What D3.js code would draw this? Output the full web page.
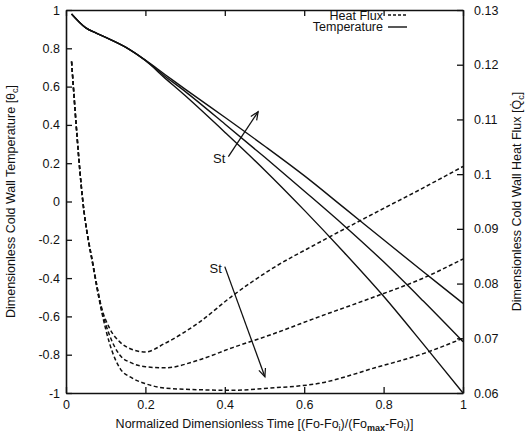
<!DOCTYPE html>
<html lang="en">
<head>
    <meta charset="UTF-8">
    <title>Cold wall temperature and heat flux</title>
    <script src="https://cdn.jsdelivr.net/npm/d3@7/dist/d3.min.js"></script>
    <style>
        body { margin: 0; background: #fff; }
        text { font-family: "Liberation Sans", Arial, Helvetica, sans-serif; fill: #111; }
    </style>
</head>
<body>
<svg width="527" height="439" id="main"></svg>
<script>
    // temperature curves (left axis), three Stanton numbers
    const tempX = [0.014, 0.03, 0.05, 0.075, 0.1, 0.15, 0.2, 0.25, 0.3, 0.4, 0.5, 0.6, 0.7, 0.8, 0.9, 1.0];
    const tempHigh = [0.979, 0.944, 0.907, 0.88, 0.857, 0.806, 0.738, 0.662, 0.587, 0.44, 0.29, 0.135, -0.032, -0.2, -0.367, -0.532];
    const tempMid = [0.979, 0.944, 0.907, 0.88, 0.857, 0.806, 0.737, 0.653, 0.575, 0.405, 0.232, 0.055, -0.125, -0.315, -0.52, -0.732];
    const tempLow = [0.979, 0.944, 0.907, 0.88, 0.857, 0.806, 0.736, 0.643, 0.553, 0.362, 0.165, -0.045, -0.265, -0.495, -0.745, -1.0];

    // heat flux curves (right axis)
    const fluxX = [0.014, 0.042, 0.069, 0.09, 0.11, 0.136, 0.165, 0.2, 0.25, 0.333, 0.42, 0.514, 0.64, 0.778, 0.9, 1.0];
    const fluxHigh = [0.1206, 0.0953, 0.0831, 0.0755, 0.0718, 0.0693, 0.068, 0.0675, 0.0691, 0.0728, 0.0778, 0.0825, 0.0876, 0.0929, 0.0975, 0.1014];
    const fluxMid = [0.1206, 0.0953, 0.0831, 0.0752, 0.0705, 0.0669, 0.0655, 0.0648, 0.0646, 0.066, 0.0683, 0.0706, 0.074, 0.0776, 0.081, 0.0845];
    const fluxLow = [0.1206, 0.0953, 0.0828, 0.0748, 0.069, 0.0645, 0.0628, 0.0617, 0.0609, 0.0606, 0.0605, 0.0609, 0.0618, 0.0646, 0.0672, 0.07];

    const xTicks = [0, 0.2, 0.4, 0.6, 0.8, 1];
    const leftTicks = [-1, -0.8, -0.6, -0.4, -0.2, 0, 0.2, 0.4, 0.6, 0.8, 1];
    const rightTicks = [0.06, 0.07, 0.08, 0.09, 0.1, 0.11, 0.12, 0.13];

    // "St" arrows in left-axis data units: [x0, y0, x1, y1]
    const arrowUp = [0.409, 0.234, 0.484, 0.469];
    const arrowDown = [0.40, -0.34, 0.501, -0.915];

    let svg = d3.select('#main');
    let width = +svg.attr('width');
    let height = +svg.attr('height');
    let margin = {top: 10, right: 64, bottom: 46, left: 66};
    const innerWidth = width - margin.left - margin.right;
    const innerHeight = height - margin.top - margin.bottom;

    let xScale = d3.scaleLinear().domain([0, 1]).range([0, innerWidth]);
    let yLeft = d3.scaleLinear().domain([-1, 1]).range([innerHeight, 0]);
    let yRight = d3.scaleLinear().domain([0.06, 0.13]).range([innerHeight, 0]);

    let g = svg.append('g').attr('transform', `translate(${margin.left}, ${margin.top})`);

    let fmt = d => String(+d.toFixed(2));

    let axes = [];
    axes.push(g.append('g').call(d3.axisLeft(yLeft).tickValues(leftTicks).tickFormat(fmt).tickSize(-6).tickSizeOuter(0).tickPadding(6)));
    axes.push(g.append('g').attr('transform', `translate(${innerWidth}, 0)`)
        .call(d3.axisRight(yRight).tickValues(rightTicks).tickFormat(fmt).tickSize(-6).tickSizeOuter(0).tickPadding(11)));
    axes.push(g.append('g').attr('transform', `translate(0, ${innerHeight})`)
        .call(d3.axisBottom(xScale).tickValues(xTicks).tickFormat(fmt).tickSize(-6).tickSizeOuter(0).tickPadding(7)));
    axes.push(g.append('g').call(d3.axisTop(xScale).tickValues(xTicks).tickFormat('').tickSize(-6).tickSizeOuter(0)));

    axes.forEach(a => {
        a.selectAll('.domain').attr('stroke', '#111').attr('stroke-width', 1.6);
        a.selectAll('.tick line').attr('stroke', '#111').attr('stroke-width', 1.3);
        a.selectAll('.tick text').attr('font-size', '12.5px').attr('fill', '#111')
            .style('font-family', '"Liberation Sans", Arial, sans-serif');
    });

    let tempLine = d3.line().x(d => xScale(d[0])).y(d => yLeft(d[1])).curve(d3.curveCatmullRom.alpha(0.5));
    let fluxLine = d3.line().x(d => xScale(d[0])).y(d => yRight(d[1])).curve(d3.curveMonotoneX);

    [fluxHigh, fluxMid, fluxLow].forEach(series => {
        g.append('path').datum(fluxX.map((x, i) => [x, series[i]]))
            .attr('d', fluxLine).attr('fill', 'none').attr('stroke', '#111')
            .attr('stroke-width', 1.5).attr('stroke-dasharray', '4,2.5');
    });

    [tempHigh, tempMid, tempLow].forEach(series => {
        g.append('path').datum(tempX.map((x, i) => [x, series[i]]))
            .attr('d', tempLine).attr('fill', 'none').attr('stroke', '#111')
            .attr('stroke-width', 1.4);
    });

    // arrowheads
    svg.append('defs').append('marker')
        .attr('id', 'head').attr('viewBox', '-10 -6 12 12')
        .attr('markerWidth', 12).attr('markerHeight', 12)
        .attr('markerUnits', 'userSpaceOnUse').attr('orient', 'auto')
        .append('path').attr('d', 'M-8,-3.5 L0,0 L-8,3.5')
        .attr('fill', 'none').attr('stroke', '#111').attr('stroke-width', 1.2);

    [arrowUp, arrowDown].forEach(a => {
        g.append('line')
            .attr('x1', xScale(a[0])).attr('y1', yLeft(a[1]))
            .attr('x2', xScale(a[2])).attr('y2', yLeft(a[3]))
            .attr('stroke', '#111').attr('stroke-width', 1.3)
            .attr('marker-end', 'url(#head)');
        g.append('text').text('St')
            .attr('x', xScale(a[0]) - 3).attr('y', yLeft(a[1]) + 6)
            .attr('text-anchor', 'end').attr('font-size', '13px');
    });

    // legend
    let legend = g.append('g');
    legend.append('text').text('Heat Flux').attr('x', 317).attr('y', 10).attr('text-anchor', 'end').attr('font-size', '12.5px');
    legend.append('line').attr('x1', 322).attr('x2', 341).attr('y1', 5).attr('y2', 5)
        .attr('stroke', '#111').attr('stroke-width', 1.3).attr('stroke-dasharray', '3,2');
    legend.append('text').text('Temperature').attr('x', 317).attr('y', 21).attr('text-anchor', 'end').attr('font-size', '12.5px');
    legend.append('line').attr('x1', 322).attr('x2', 341).attr('y1', 17).attr('y2', 17)
        .attr('stroke', '#111').attr('stroke-width', 1.4);

    // axis titles
    let xt = svg.append('text').attr('x', margin.left + innerWidth / 2).attr('y', 428)
        .attr('text-anchor', 'middle').attr('font-size', '12.5px');
    xt.append('tspan').text('Normalized Dimensionless Time [(Fo-Fo');
    xt.append('tspan').text('i').attr('font-size', '9px').attr('dy', 3);
    xt.append('tspan').text(')/(Fo').attr('dy', -3);
    xt.append('tspan').text('max').attr('font-size', '9px').attr('font-weight', 'bold').attr('dy', 3);
    xt.append('tspan').text('-Fo').attr('dy', -3);
    xt.append('tspan').text('i').attr('font-size', '9px').attr('dy', 3);
    xt.append('tspan').text(')]').attr('dy', -3);

    let lt = svg.append('text').attr('transform', `translate(15, ${margin.top + innerHeight / 2}) rotate(-90)`)
        .attr('text-anchor', 'middle').attr('font-size', '12.5px');
    lt.append('tspan').text('Dimensionless Cold Wall Temperature [θ');
    lt.append('tspan').text('c').attr('font-size', '9px').attr('dy', 3);
    lt.append('tspan').text(']').attr('dy', -3);

    let rt = svg.append('text').attr('transform', `translate(521, ${margin.top + innerHeight / 2}) rotate(-90)`)
        .attr('text-anchor', 'middle').attr('font-size', '12.5px');
    rt.append('tspan').text('Dimensionless Cold Wall Heat Flux [Q\u0307');
    rt.append('tspan').text('c').attr('font-size', '9px').attr('dy', 3);
    rt.append('tspan').text(']').attr('dy', -3);
</script>
</body>
</html>
